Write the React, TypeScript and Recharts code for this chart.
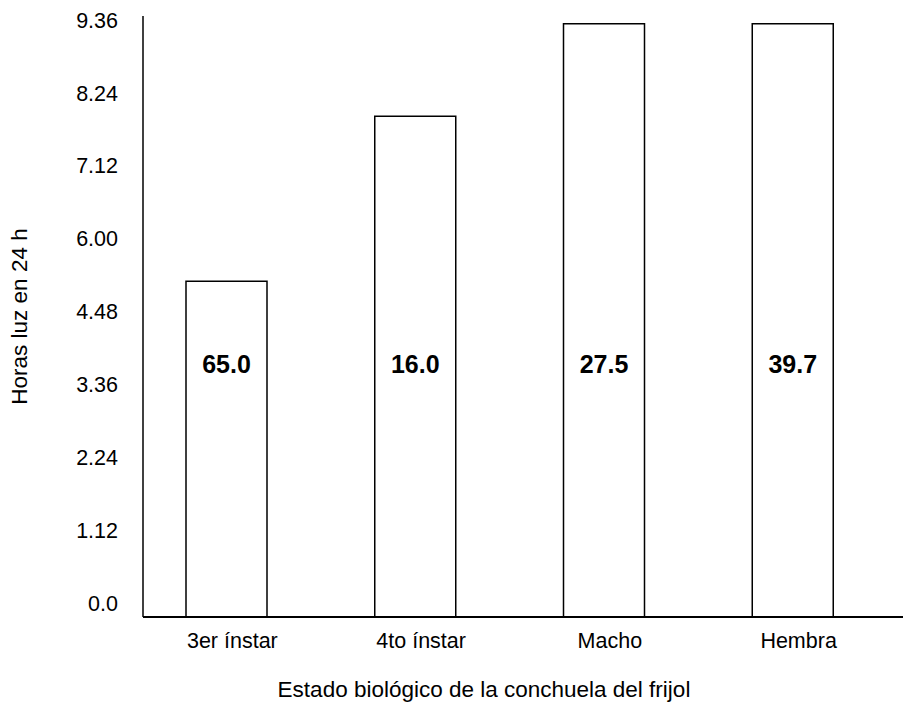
import React from 'react';
import { BarChart, Bar, XAxis, YAxis, LabelList } from 'recharts';

// categories and values
const categories = ['3er ínstar', '4to ínstar', 'Macho', 'Hembra'];
const hours = [5.23, 7.8, 9.24, 9.24];
const barLabels = ['65.0', '16.0', '27.5', '39.7'];
// the printed y labels are evenly spaced even though their values are not
const yTickLabels = ['0.0', '1.12', '2.24', '3.36', '4.48', '6.00', '7.12', '8.24', '9.36'];

const FONT = '"Liberation Sans", Arial, sans-serif';

const data = categories.map((name, i) => ({ name, hours: hours[i], label: barLabels[i] }));
const yTickIdx = yTickLabels.map((_, i) => i);

const BarText = (props: any) => {
  const { x, y, width, height, value } = props;
  return (
    <text
      x={x + width / 2}
      y={y + height - 253}
      dy="0.35em"
      textAnchor="middle"
      fontFamily={FONT}
      fontSize={25}
      fontWeight="bold"
      fill="#000"
    >
      {value}
    </text>
  );
};

const App: React.FC = () => {
  return (
    <div style={{ position: 'absolute', left: 0, top: 0, background: '#fff' }}>
      <BarChart width={904} height={713} data={data} margin={{ top: 16, right: 1, left: 0, bottom: 66 }}>
        <XAxis
          dataKey="name"
          height={30}
          padding={{ left: -11, right: 16 }}
          axisLine={{ stroke: '#000', strokeWidth: 2 }}
          tickLine={false}
          tickMargin={10}
          tick={{ fill: '#000', fontSize: 21.5, fontFamily: FONT, dx: 6 }}
          label={{
            value: 'Estado biológico de la conchuela del frijol',
            position: 'bottom',
            offset: 34,
            dx: -39,
            fill: '#000',
            fontSize: 22.5,
            fontFamily: FONT,
          }}
        />
        <YAxis
          yAxisId="labels"
          type="number"
          width={143}
          domain={[-0.192, 8.055]}
          allowDataOverflow
          ticks={yTickIdx}
          interval={0}
          tickFormatter={(v: number) => yTickLabels[v] ?? ''}
          axisLine={{ stroke: '#000', strokeWidth: 1.5 }}
          tickLine={false}
          tickMargin={19}
          tick={{ fill: '#000', fontSize: 21.5, fontFamily: FONT }}
          label={{
            value: 'Horas luz en 24 h',
            angle: -90,
            position: 'insideLeft',
            offset: 19,
            fill: '#000',
            fontSize: 22.5,
            fontFamily: FONT,
            style: { textAnchor: 'middle' },
          }}
        />
        <YAxis yAxisId="hours" type="number" domain={[0, 9.36]} allowDataOverflow hide width={0} />
        <Bar
          yAxisId="hours"
          dataKey="hours"
          barSize={81}
          fill="#fff"
          stroke="#000"
          strokeWidth={1.5}
          isAnimationActive={false}
        >
          <LabelList dataKey="label" content={BarText} />
        </Bar>
      </BarChart>
    </div>
  );
};

export default App;
